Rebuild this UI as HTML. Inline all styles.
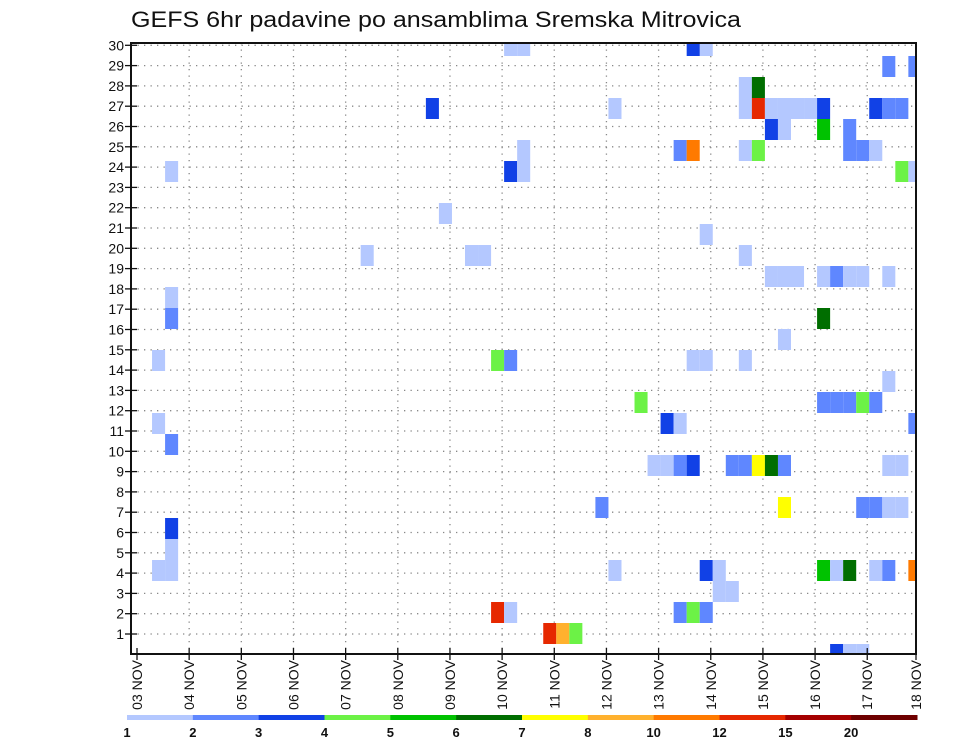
<!DOCTYPE html>
<html><head><meta charset="utf-8"><style>
html,body{margin:0;padding:0;background:#fff;}
svg{display:block;font-family:"Liberation Sans",sans-serif;}
</style></head><body>
<svg id="chart" width="960" height="742" viewBox="0 0 960 742" xmlns="http://www.w3.org/2000/svg">
<text x="131" y="27" font-size="22" textLength="610" lengthAdjust="spacingAndGlyphs" fill="#111">GEFS 6hr padavine po ansamblima Sremska Mitrovica</text>
<g id="grid"></g>
<g id="cells"></g>
<rect x="131" y="43" width="785" height="611" fill="none" stroke="#111" stroke-width="2"/>
<g id="axes"></g>
<g id="legend"></g>
</svg>
<script>
// time step index (6-hourly from 03 NOV 00Z), ensemble row index, precip level index
const stepIdx = [28,29,43,42, 57,59, 46,47,46,47,48,49,50,51,52,22,36,56,57,58,
  48,49,52,54, 41,42,46,47,54,55,56, 2,28,29,29,58,59,
  23,43,17,25,26,46, 48,49,50,52,53,54,55,57, 2,2,52,49, 1,27,28,42,43,46, 57,
  38,52,53,54,55,56, 1,40,41,59, 2,
  39,40,41,42,45,46,47,48,49,57,58,
  35,49,55,56,57,58, 2,2,
  1,2,36,43,44,52,53,54,56,57,59, 44,45,
  27,28,41,42,43, 31,32,33, 53,54,55];
const rowIdx = [29,29,29,29, 28,28, 27,27,26,26,26,26,26,26,26,26,26,26,26,26,
  25,25,25,25, 24,24,24,24,24,24,24, 23,23,23,24,23,23,
  21,20,19,19,19,19, 18,18,18,18,18,18,18,18, 17,16,16,15, 14,14,14,14,14,14, 13,
  12,12,12,12,12,12, 11,11,11,11, 10,
  9,9,9,9,9,9,9,9,9,9,9,
  7,7,7,7,7,7, 6,5,
  4,4,4,4,4,4,4,4,4,4,4, 3,3,
  2,2,2,2,2, 1,1,1, 0,0,0];
const levelIdx = [1,1,1,3, 2,2, 1,6,1,12,1,1,1,1,3,3,1,3,2,2,
  3,1,5,2, 2,10,1,4,2,2,1, 1,3,1,1,4,1,
  1,1,1,1,1,1, 1,1,1,1,2,1,1,1, 1,2,6,1, 1,4,2,1,1,1, 1,
  4,2,2,2,4,2, 1,3,1,2, 2,
  1,1,2,3,2,2,7,6,2,1,1,
  2,7,2,2,1,1, 3,1,
  1,1,1,3,1,5,1,6,1,2,10, 1,1,
  12,1,2,4,2, 12,8,4, 3,1,1];
const levelColor = {1:"#b4c8ff",2:"#5f87ff",3:"#1141e6",4:"#6cf246",5:"#00c200",6:"#006e00",7:"#ffff00",8:"#ffb12e",10:"#ff7a00",12:"#e62800",15:"#a50000",20:"#6e0000"};
const yTicks = [1,2,3,4,5,6,7,8,9,10,11,12,13,14,15,16,17,18,19,20,21,22,23,24,25,26,27,28,29,30];
const dayLabels = ["03 NOV","04 NOV","05 NOV","06 NOV","07 NOV","08 NOV","09 NOV","10 NOV","11 NOV","12 NOV","13 NOV","14 NOV","15 NOV","16 NOV","17 NOV","18 NOV"];
const legendLabels = ["1","2","3","4","5","6","7","8","10","12","15","20"];
const legendLevels = [1,2,3,4,5,6,7,8,10,12,15,20];

const NS="http://www.w3.org/2000/svg";
const X0=139, STEP=13.04, DAY=STEP*4;
const PL=131, PR=916, PT=43, PB=654;
function xStep(k){return X0+k*STEP;}
function xDay(d){return Math.min(X0-2+d*DAY, PR);}
function yLabel(v){return 654.3-v*20.3;}
function yCellCenter(i){return 633.5-(i-1)*21;}
function mk(tag,attrs,parent){const e=document.createElementNS(NS,tag);for(const a in attrs)e.setAttribute(a,attrs[a]);parent.appendChild(e);return e;}

const grid=document.getElementById('grid');
yTicks.forEach(v=>{
  const l=mk('line',{x1:PL,x2:PR,y1:yLabel(v),y2:yLabel(v),stroke:'#888','stroke-width':1.3,'stroke-dasharray':'1.3,5.2'},grid);
  
  
});
dayLabels.forEach((d,j)=>{
  if(j===0||j===dayLabels.length-1)return;
  const l=mk('line',{x1:xDay(j),x2:xDay(j),y1:PT,y2:PB,stroke:'#888','stroke-width':1.3,'stroke-dasharray':'1.3,5.2'},grid);
  
  
});

const cells=document.getElementById('cells');
const clip=mk('clipPath',{id:'pc'},cells);
mk('rect',{x:PL,y:PT,width:PR-PL,height:PB-PT},clip);
const cg=mk('g',{'clip-path':'url(#pc)'},cells);
for(let n=0;n<stepIdx.length;n++){
  const r=mk('rect',{x:xStep(stepIdx[n]),y:yCellCenter(rowIdx[n])-10.5,width:STEP,height:21,fill:levelColor[levelIdx[n]]},cg);
  
  
}

const axes=document.getElementById('axes');
yTicks.forEach(v=>{
  mk('line',{x1:PL-6,x2:PL+6,y1:yLabel(v),y2:yLabel(v),stroke:'#111','stroke-width':1.3},axes);
  const t=mk('text',{x:124,y:yLabel(v)+5,'font-size':14,'text-anchor':'end',fill:'#111'},axes);
  t.textContent=v;
  
  
});
dayLabels.forEach((d,j)=>{
  const x=xDay(j);
  mk('line',{x1:x,x2:x,y1:PB-6,y2:PB+6,stroke:'#111','stroke-width':1.3},axes);
  const t=mk('text',{x:0,y:0,'font-size':14,'text-anchor':'end',fill:'#111',transform:`translate(${x+5},660) rotate(-90)`},axes);
  t.textContent=d;
  
  
});

const lg=document.getElementById('legend');
const LX0=127, LW=(917-127)/legendLevels.length;
legendLevels.forEach((lv,j)=>{
  const r=mk('rect',{x:LX0+j*LW,y:715,width:LW+0.5,height:5,fill:levelColor[lv]},lg);
  
  
  const t=mk('text',{x:LX0+j*LW,y:737,'font-size':13,'font-weight':'bold','text-anchor':'middle',fill:'#111'},lg);
  t.textContent=legendLabels[j];
  
  
});
</script>
</body></html>
